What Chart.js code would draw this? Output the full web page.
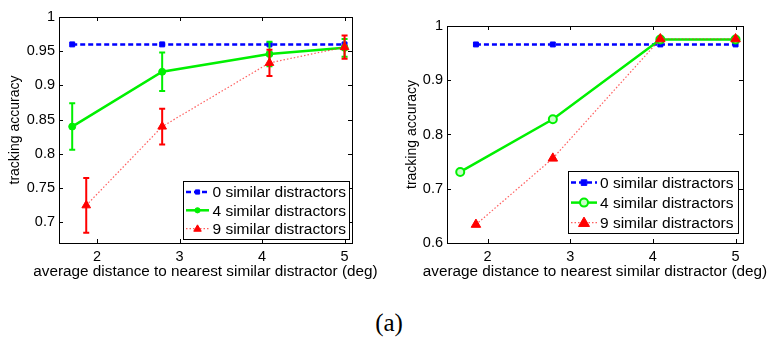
<!DOCTYPE html>
<html>
<head>
<meta charset="utf-8">
<script src="https://cdn.jsdelivr.net/npm/chart.js@4.4.1/dist/chart.umd.min.js"></script>
<style>
  html, body { margin: 0; padding: 0; background: #fff; }
  body { width: 769px; height: 337px; position: relative; overflow: hidden; }
  .panel { position: absolute; top: 0; height: 290px; }
  #left { left: 0; width: 385px; }
  #right { left: 385px; width: 384px; }
  #caption {
    position: absolute; left: 0; width: 778px; top: 310px; text-align: center;
    font-family: "Liberation Serif", "DejaVu Serif", serif; font-size: 25px; line-height: 25px; color: #000;
  }
</style>
</head>
<body>
<div class="panel" id="left"><canvas id="cLeft" width="385" height="290"></canvas></div>
<div class="panel" id="right"><canvas id="cRight" width="384" height="290"></canvas></div>
<div id="caption">(a)</div>
<script>
// ---- data: left panel (with standard errors) ----
const leftDist0 = [1.70, 2.79, 4.09, 5.00];
const leftAcc0  = [0.960, 0.960, 0.960, 0.960];
const leftDist4 = [1.70, 2.79, 4.09, 5.00];
const leftAcc4  = [0.840, 0.920, 0.946, 0.955];
const leftErr4  = [0.034, 0.028, 0.018, 0.013];
const leftDist9 = [1.87, 2.79, 4.09, 5.00];
const leftAcc9  = [0.725, 0.840, 0.933, 0.956];
const leftErr9  = [0.040, 0.026, 0.019, 0.017];
const leftXTicks = [2, 3, 4, 5];
const leftYTicks = [0.7, 0.75, 0.8, 0.85, 0.9, 0.95, 1];

// ---- data: right panel ----
const rightDist0 = [1.86, 2.79, 4.09, 5.00];
const rightAcc0  = [0.966, 0.966, 0.966, 0.966];
const rightDist4 = [1.67, 2.79, 4.09, 5.00];
const rightAcc4  = [0.731, 0.828, 0.975, 0.975];
const rightDist9 = [1.86, 2.79, 4.09, 5.00];
const rightAcc9  = [0.634, 0.756, 0.976, 0.976];
const rightXTicks = [2, 3, 4, 5];
const rightYTicks = [0.6, 0.7, 0.8, 0.9, 1];

const seriesLabels = ['0 similar distractors', '4 similar distractors', '9 similar distractors'];
const xTitle = 'average distance to nearest similar distractor (deg)';
const yTitle = 'tracking accuracy';

const FONT = '"Liberation Sans", Arial, Helvetica, sans-serif';
const BLUE = '#0000ff', GREEN = '#00f000', RED = '#ff0000', RED_LINE = 'rgba(255,40,40,0.75)';

const pts = (xs, ys) => xs.map((x, i) => ({ x, y: ys[i] }));

// box frame + inward tick marks on all four sides
const framePlugin = {
  id: 'frame',
  afterDraw(chart) {
    const { ctx, chartArea: a, scales } = chart;
    ctx.save();
    ctx.strokeStyle = '#000';
    ctx.lineWidth = 1;
    ctx.beginPath();
    const len = 4;
    scales.x.ticks.forEach(t => {
      const px = Math.round(scales.x.getPixelForValue(t.value)) + 0.5;
      ctx.moveTo(px, a.bottom); ctx.lineTo(px, a.bottom - len);
      ctx.moveTo(px, a.top); ctx.lineTo(px, a.top + len);
    });
    scales.y.ticks.forEach(t => {
      const py = Math.round(scales.y.getPixelForValue(t.value)) + 0.5;
      ctx.moveTo(a.left, py); ctx.lineTo(a.left + len, py);
      ctx.moveTo(a.right, py); ctx.lineTo(a.right - len, py);
    });
    ctx.stroke();
    ctx.strokeRect(Math.round(a.left) + 0.5, Math.round(a.top) + 0.5,
                   Math.round(a.right - a.left), Math.round(a.bottom - a.top));
    ctx.restore();
  }
};

// x-axis caption, allowed to run wider than the plot area
const xCaptionPlugin = {
  id: 'xCaption',
  afterDraw(chart, args, opts) {
    const { ctx, chartArea: a } = chart;
    ctx.save();
    ctx.font = opts.size + 'px ' + FONT;
    ctx.fillStyle = '#000';
    ctx.textAlign = 'center';
    ctx.textBaseline = 'middle';
    ctx.fillText(opts.text, (a.left + a.right) / 2, a.bottom + opts.offset);
    ctx.restore();
  }
};

// vertical error bars with caps, drawn before the markers
const errorBarPlugin = {
  id: 'errorBars',
  beforeDatasetDraw(chart, args) {
    const ds = chart.data.datasets[args.index];
    if (!ds.errors) return;
    const { ctx, scales } = chart;
    ctx.save();
    ctx.strokeStyle = ds.errorColor;
    ctx.lineWidth = 2;
    ctx.setLineDash([]);
    ctx.beginPath();
    ds.data.forEach((p, i) => {
      const e = ds.errors[i];
      const px = scales.x.getPixelForValue(p.x);
      const top = scales.y.getPixelForValue(p.y + e);
      const bot = scales.y.getPixelForValue(p.y - e);
      ctx.moveTo(px, top); ctx.lineTo(px, bot);
      ctx.moveTo(px - 3, top); ctx.lineTo(px + 3, top);
      ctx.moveTo(px - 3, bot); ctx.lineTo(px + 3, bot);
    });
    ctx.stroke();
    ctx.restore();
  }
};

// boxed legend with line samples, in the lower right of the plot
const boxLegendPlugin = {
  id: 'boxLegend',
  afterDraw(chart, args, opts) {
    const { ctx, chartArea: a } = chart;
    const x = a.right - opts.right - opts.width;
    const y = a.bottom - opts.bottom - opts.height;
    ctx.save();
    ctx.fillStyle = '#fff';
    ctx.fillRect(x, y, opts.width, opts.height);
    ctx.strokeStyle = '#000';
    ctx.lineWidth = 1;
    ctx.strokeRect(Math.round(x) + 0.5, Math.round(y) + 0.5, Math.round(opts.width), Math.round(opts.height));
    ctx.font = opts.fontSize + 'px ' + FONT;
    ctx.textBaseline = 'middle';
    chart.data.datasets.forEach((ds, i) => {
      const cy = y + opts.firstRow + i * opts.rowGap;
      const x0 = x + 3, x1 = x + opts.sample;
      ctx.strokeStyle = ds.borderColor;
      ctx.lineWidth = ds.borderWidth;
      ctx.setLineDash(ds.borderDash || []);
      ctx.beginPath();
      ctx.moveTo(x0, cy); ctx.lineTo(x1, cy);
      ctx.stroke();
      ctx.setLineDash([]);
      const mx = (x0 + x1) / 2;
      const r = opts.markerScale * ds.pointRadius;
      ctx.fillStyle = ds.pointBackgroundColor;
      ctx.strokeStyle = ds.pointBorderColor;
      ctx.lineWidth = ds.pointBorderWidth || 1;
      ctx.beginPath();
      if (ds.pointStyle === 'rect') {
        ctx.rect(mx - r * 0.8, cy - r * 0.8, r * 1.6, r * 1.6);
      } else if (ds.pointStyle === 'triangle') {
        ctx.moveTo(mx, cy - r); ctx.lineTo(mx + r, cy + r * 0.7); ctx.lineTo(mx - r, cy + r * 0.7); ctx.closePath();
      } else {
        ctx.arc(mx, cy, r, 0, Math.PI * 2);
      }
      ctx.fill(); ctx.stroke();
      ctx.fillStyle = '#000';
      ctx.fillText(ds.label, x + opts.textX, cy + 1);
    });
    ctx.restore();
  }
};

function fmt(v) { return String(Number(v.toFixed(2))); }

function makeChart(canvasId, cfg) {
  return new Chart(document.getElementById(canvasId), {
    type: 'line',
    data: { datasets: cfg.datasets },
    plugins: [errorBarPlugin, framePlugin, xCaptionPlugin, boxLegendPlugin],
    options: {
      responsive: false,
      animation: false,
      devicePixelRatio: 1,
      layout: { padding: cfg.padding },
      plugins: {
        legend: { display: false },
        tooltip: { enabled: false },
        boxLegend: cfg.legend,
        xCaption: { text: xTitle, size: 15.3, offset: 28.5 }
      },
      scales: {
        x: {
          type: 'linear', min: cfg.xMin, max: cfg.xMax,
          afterBuildTicks: s => { s.ticks = cfg.xTicks.map(v => ({ value: v })); },
          afterFit: s => { s.height = cfg.xAxisHeight; },
          grid: { display: false, drawTicks: false },
          border: { display: false },
          ticks: { color: '#000', font: { family: FONT, size: 14.5 }, padding: 5, callback: v => fmt(v), maxRotation: 0 },
          title: { display: false }
        },
        y: {
          type: 'linear', min: cfg.yMin, max: cfg.yMax,
          afterBuildTicks: s => { s.ticks = cfg.yTicks.map(v => ({ value: v })); },
          afterFit: s => { s.width = cfg.yAxisWidth; },
          grid: { display: false, drawTicks: false },
          border: { display: false },
          ticks: { color: '#000', font: { family: FONT, size: 14.5 }, padding: 4, callback: v => fmt(v) },
          title: { display: true, text: yTitle, color: '#000', font: { family: FONT, size: 14 }, padding: { top: cfg.yTitlePad, bottom: 0 } }
        }
      }
    }
  });
}

function blueSet(d) {
  return { label: seriesLabels[0], data: d, borderColor: BLUE, borderWidth: 2.5, borderDash: [5, 3],
    pointStyle: 'rect', pointRadius: 3.5, pointBackgroundColor: BLUE, pointBorderColor: BLUE, pointBorderWidth: 1,
    fill: false, tension: 0, order: 3 };
}

makeChart('cLeft', {
  padding: { left: 0, top: 17, right: 33, bottom: 0 },
  xMin: 1.54, xMax: 5.09, yMin: 0.67, yMax: 1,
  xTicks: leftXTicks, yTicks: leftYTicks,
  xAxisHeight: 47, yAxisWidth: 59, yTitlePad: 7,
  legend: { width: 166, height: 58, right: 3, bottom: 4, firstRow: 11, rowGap: 18.3, sample: 26, textX: 29.5, fontSize: 15.5, markerScale: 0.75 },
  datasets: [
    blueSet(pts(leftDist0, leftAcc0)),
    { label: seriesLabels[1], data: pts(leftDist4, leftAcc4), errors: leftErr4, errorColor: GREEN,
      borderColor: GREEN, borderWidth: 2.5, pointStyle: 'circle', pointRadius: 3.5,
      pointBackgroundColor: GREEN, pointBorderColor: GREEN, pointBorderWidth: 1, fill: false, tension: 0, order: 2 },
    { label: seriesLabels[2], data: pts(leftDist9, leftAcc9), errors: leftErr9, errorColor: RED,
      borderColor: RED_LINE, borderWidth: 1.2, borderDash: [1.5, 2], pointStyle: 'triangle', pointRadius: 5,
      pointBackgroundColor: RED, pointBorderColor: RED, pointBorderWidth: 1, fill: false, tension: 0, order: 1 }
  ]
});

makeChart('cRight', {
  padding: { left: 0, top: 26, right: 26, bottom: 0 },
  xMin: 1.51, xMax: 5.09, yMin: 0.6, yMax: 1,
  xTicks: rightXTicks, yTicks: rightYTicks,
  xAxisHeight: 47, yAxisWidth: 62, yTitlePad: 19,
  legend: { width: 170, height: 62, right: 5, bottom: 10, firstRow: 11.6, rowGap: 20, sample: 29, textX: 32, fontSize: 15.5, markerScale: 1 },
  datasets: [
    blueSet(pts(rightDist0, rightAcc0)),
    { label: seriesLabels[1], data: pts(rightDist4, rightAcc4),
      borderColor: GREEN, borderWidth: 2.5, pointStyle: 'circle', pointRadius: 4,
      pointBackgroundColor: '#c8ffc8', pointBorderColor: GREEN, pointBorderWidth: 2, fill: false, tension: 0, order: 2 },
    { label: seriesLabels[2], data: pts(rightDist9, rightAcc9),
      borderColor: RED_LINE, borderWidth: 1.2, borderDash: [1.5, 2], pointStyle: 'triangle', pointRadius: 5.5,
      pointBackgroundColor: RED, pointBorderColor: RED, pointBorderWidth: 1, fill: false, tension: 0, order: 1 }
  ]
});
</script>
</body>
</html>
